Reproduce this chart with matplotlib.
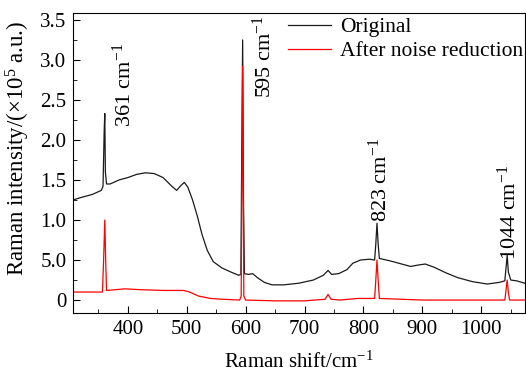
import matplotlib
matplotlib.use("Agg")
import matplotlib.pyplot as plt
from matplotlib.ticker import MultipleLocator

# 拉曼光谱 原始数据 (cm^-1, ×10^5 a.u.)
orig_x = [307, 320, 340, 355, 358, 360, 361, 362, 364, 370, 385, 400, 415, 430, 445,
          460, 475, 483, 490, 496, 502, 510, 518, 526, 535, 545, 560, 575, 588, 592,
          593.5, 595, 596.5, 598, 605, 612, 620, 632, 645, 665, 690, 715, 732, 740,
          746, 758, 772, 782, 795, 810, 819, 821, 823, 825, 827, 845, 865, 880, 895,
          905, 920, 940, 960, 985, 1010, 1030, 1040, 1042, 1044, 1046, 1050, 1060, 1074]
orig_y = [1.25, 1.28, 1.32, 1.37, 1.42, 2.12, 2.33, 1.6, 1.45, 1.45, 1.5, 1.53, 1.57, 1.59, 1.58,
          1.53, 1.42, 1.37, 1.43, 1.47, 1.41, 1.25, 1.05, 0.82, 0.62, 0.48, 0.4, 0.35, 0.31, 0.32,
          1.9, 3.25, 1.2, 0.33, 0.32, 0.33, 0.28, 0.22, 0.19, 0.19, 0.21, 0.25, 0.31, 0.37,
          0.32, 0.33, 0.38, 0.46, 0.5, 0.51, 0.5, 0.7, 0.96, 0.7, 0.52, 0.49, 0.45, 0.42, 0.44,
          0.45, 0.41, 0.34, 0.28, 0.23, 0.2, 0.22, 0.24, 0.4, 0.56, 0.35, 0.25, 0.24, 0.21]

# 降噪后数据
den_x = [307, 340, 357, 359, 361, 362.5, 364, 380, 395, 420, 460, 495, 505, 520, 540, 560,
         590, 592.5, 595, 597, 600, 650, 700, 735, 740, 745, 760, 790, 819, 821, 823, 825,
         827, 900, 1000, 1040, 1042, 1044, 1046, 1048, 1074]
den_y = [0.1, 0.1, 0.1, 0.5, 1.0, 0.5, 0.12, 0.13, 0.14, 0.13, 0.12, 0.12, 0.1, 0.05, 0.02, 0.01,
         0.0, 0.05, 2.92, 0.05, 0.0, -0.01, -0.01, 0.01, 0.07, 0.01, 0.0, 0.02, 0.02, 0.25, 0.5, 0.25,
         0.02, 0.0, 0.0, 0.0, 0.12, 0.25, 0.1, 0.0, 0.0]

peak_pos = [361, 595, 823, 1044]
peak_text = ["361 cm$^{-1}$", "595 cm$^{-1}$", "823 cm$^{-1}$", "1044 cm$^{-1}$"]
peak_text_y = [2.16, 2.52, 0.97, 0.5]
peak_text_dx = [33, 36, 5, 3]

ytick_vals = [0, 0.5, 1.0, 1.5, 2.0, 2.5, 3.0, 3.5]
ytick_labels = ["0", "5.0", "1.0", "1.5", "2.0", "2.5", "3.0", "3.5"]
xtick_vals = [400, 500, 600, 700, 800, 900, 1000]

plt.rcParams['font.family'] = ['Liberation Serif', 'DejaVu Serif']
plt.rcParams['mathtext.fontset'] = 'custom'
plt.rcParams['mathtext.rm'] = 'Liberation Serif'
plt.rcParams['mathtext.default'] = 'regular'
plt.rcParams['font.size'] = 15

fig = plt.figure(figsize=(5.26, 3.74), dpi=100)
ax = fig.add_axes([0.1394, 0.162, 0.859, 0.804])

ax.plot(orig_x, orig_y, color='#1a1a1a', lw=0.9, label='Original')
ax.plot(den_x, den_y, color='#ff0000', lw=0.9, label='After noise reduction')

for p, t, ty, dx in zip(peak_pos, peak_text, peak_text_y, peak_text_dx):
    ax.text(p + dx, ty, t, rotation=90, ha='center', va='bottom', fontsize=16)

ax.set_xlim(307.6, 1074.5)
ax.set_ylim(-0.167, 3.59)
ax.set_xticks(xtick_vals)
ax.set_yticks(ytick_vals)
ax.set_yticklabels(ytick_labels)
ax.xaxis.set_minor_locator(MultipleLocator(50))
ax.yaxis.set_minor_locator(MultipleLocator(0.25))
ax.tick_params(which='both', direction='in', top=False, right=False)
ax.tick_params(which='major', length=5, pad=5)
ax.tick_params(which='minor', length=3)

ax.set_xlabel('Raman shift/cm$^{-1}$', labelpad=9)
ax.set_ylabel('Raman intensity/($\\times$10$^{5}$ a.u.)', fontsize=16.5)
ax.yaxis.set_label_coords(-0.092, 0.55)

ax.legend(loc='upper right', bbox_to_anchor=(1.005, 1.0), frameon=False, fontsize=15.5,
          handlelength=2.0, borderaxespad=0.0, borderpad=0.2, labelspacing=0.2,
          handletextpad=0.4)

fig.savefig('out.png', dpi=100)
